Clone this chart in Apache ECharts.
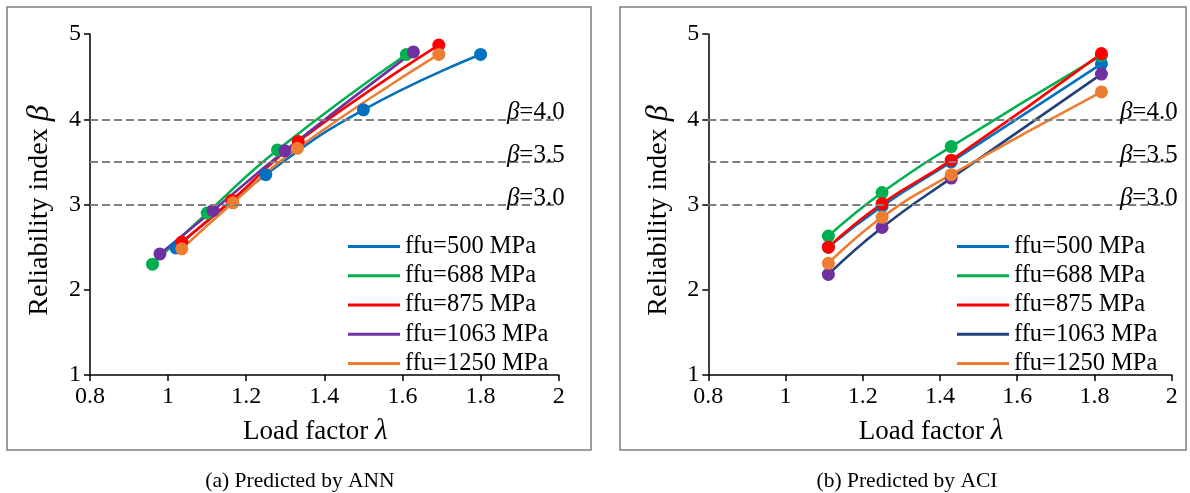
<!DOCTYPE html>
<html>
<head>
<meta charset="utf-8">
<script src="https://cdn.jsdelivr.net/npm/echarts@6/dist/echarts.min.js"></script>
<style>
html,body{margin:0;padding:0;background:#fff;}
#main{width:1190px;height:493px;}
</style>
</head>
<body>
<div id="main"></div>
<script>
// ---- data ----
const seriesNames = ['ffu=500 MPa','ffu=688 MPa','ffu=875 MPa','ffu=1063 MPa','ffu=1250 MPa'];
// (a) Predicted by ANN
const annX500  = [1.02, 1.25, 1.50, 1.80];
const annY500  = [2.49, 3.35, 4.11, 4.76];
const annX688  = [0.96, 1.10, 1.28, 1.61];
const annY688  = [2.30, 2.90, 3.64, 4.76];
const annX875  = [1.035, 1.163, 1.333, 1.693];
const annY875  = [2.56, 3.05, 3.74, 4.87];
const annX1063 = [0.979, 1.115, 1.299, 1.628];
const annY1063 = [2.42, 2.93, 3.63, 4.79];
const annX1250 = [1.035, 1.166, 1.331, 1.693];
const annY1250 = [2.48, 3.02, 3.66, 4.76];
// (b) Predicted by ACI
const aciX     = [1.111, 1.25, 1.429, 1.818];
const aciY500  = [2.50, 2.98, 3.50, 4.65];
const aciY688  = [2.63, 3.14, 3.68, 4.75];
const aciY875  = [2.50, 3.01, 3.52, 4.77];
const aciY1063 = [2.18, 2.73, 3.31, 4.53];
const aciY1250 = [2.31, 2.85, 3.35, 4.32];
// target reliability lines
const betaTargets = [4.0, 3.5, 3.0];
const captions = ['(a) Predicted by ANN', '(b) Predicted by ACI'];

// ---- styles ----
const FONT = 'Liberation Serif';
const annLineColors = ['#0070C0','#00B050','#FF0000','#7030A0','#ED7D31'];
const annMarkColors = ['#0070C0','#00B050','#FF0000','#7030A0','#ED7D31'];
const aciLineColors = ['#0070C0','#00B050','#FF0000','#22407A','#ED7D31'];
const aciMarkColors = ['#0070C0','#00B050','#FF0000','#7030A0','#ED7D31'];

const zip = (xs, ys) => xs.map((x, i) => [x, ys[i]]);
const annData = [zip(annX500,annY500), zip(annX688,annY688), zip(annX875,annY875), zip(annX1063,annY1063), zip(annX1250,annY1250)];
const aciData = [zip(aciX,aciY500), zip(aciX,aciY688), zip(aciX,aciY875), zip(aciX,aciY1063), zip(aciX,aciY1250)];

function markLineDef() {
  return {
    silent: true,
    symbol: 'none',
    lineStyle: {color: '#808080', width: 2, type: [8, 4]},
    label: {
      position: 'insideEndTop',
      distance: -6,
      fontFamily: FONT, fontSize: 25, color: '#000',
      rich: {b: {fontFamily: FONT, fontSize: 25, fontStyle: 'italic', color: '#000'}}
    },
    data: betaTargets.map(v => ({yAxis: v, label: {formatter: '{b|β}=' + v.toFixed(1)}}))
  };
}

const series = [];
[annData, aciData].forEach((set, g) => {
  set.forEach((d, i) => {
    const s = {
      name: seriesNames[i],
      type: 'line',
      xAxisIndex: g, yAxisIndex: g,
      data: d,
      smooth: 0.5,
      symbol: 'circle',
      symbolSize: 13,
      lineStyle: {width: 2.6, color: (g === 0 ? annLineColors : aciLineColors)[i]},
      itemStyle: {color: (g === 0 ? annMarkColors : aciMarkColors)[i]},
      z: 3
    };
    if (i === 0) s.markLine = markLineDef();
    series.push(s);
  });
});

function xAxisDef(g) {
  return {
    type: 'value', gridIndex: g, min: 0.8, max: 2, interval: 0.2,
    name: 'Load factor {l|λ}', nameLocation: 'middle', nameGap: 42,
    nameTextStyle: {fontFamily: FONT, fontSize: 27, color: '#000', padding: [0, 18, 0, 0],
      rich: {l: {fontFamily: FONT, fontSize: 29, fontStyle: 'italic', color: '#000'}}},
    axisLine: {show: true, lineStyle: {color: '#000', width: 1.5}},
    axisTick: {show: true, inside: false, length: 6, lineStyle: {color: '#000', width: 1.5}},
    axisLabel: {fontFamily: FONT, fontSize: 24, color: '#000', margin: 10},
    splitLine: {show: false}
  };
}
function yAxisDef(g) {
  return {
    type: 'value', gridIndex: g, min: 1, max: 5, interval: 1,
    name: 'Reliability index {b|β}', nameLocation: 'middle', nameGap: 34, nameRotate: 90,
    nameTextStyle: {fontFamily: FONT, fontSize: 28, color: '#000', padding: [0, 12, 0, 0],
      rich: {b: {fontFamily: FONT, fontSize: 32, fontStyle: 'italic', color: '#000'}}},
    axisLine: {show: true, lineStyle: {color: '#000', width: 1.5}},
    axisTick: {show: true, inside: false, length: 6, lineStyle: {color: '#000', width: 1.5}},
    axisLabel: {fontFamily: FONT, fontSize: 24, color: '#000', margin: 9},
    splitLine: {show: false}
  };
}
function legendDef(g, left) {
  const lc = g === 0 ? annLineColors : aciLineColors;
  return {
    orient: 'vertical', left: left, top: 234, padding: 0,
    icon: 'rect', itemWidth: 52, itemHeight: 3, itemGap: 4.25,
    textStyle: {fontFamily: FONT, fontSize: 24.5, color: '#000', lineHeight: 24},
    data: seriesNames.map((n, i) => ({name: n, itemStyle: {color: lc[i]}}))
  };
}

const chart = echarts.init(document.getElementById('main'), null, {renderer: 'canvas'});
chart.setOption({
  animation: false,
  backgroundColor: '#fff',
  grid: [
    {left: 90, top: 34, width: 468.7, height: 341},
    {left: 708.3, top: 34, width: 463.4, height: 341}
  ],
  xAxis: [xAxisDef(0), xAxisDef(1)],
  yAxis: [yAxisDef(0), yAxisDef(1)],
  legend: [legendDef(0, 348), legendDef(1, 957)],
  series: series,
  graphic: [
    {type: 'rect', shape: {x: 7, y: 7, width: 584, height: 443}, style: {fill: 'none', stroke: '#7f7f7f', lineWidth: 1.5}, silent: true},
    {type: 'rect', shape: {x: 620, y: 7, width: 566, height: 443}, style: {fill: 'none', stroke: '#7f7f7f', lineWidth: 1.5}, silent: true},
    {type: 'text', x: 300, y: 481, style: {text: captions[0], fontFamily: FONT, fontSize: 21.5, fill: '#000', textAlign: 'center', textVerticalAlign: 'middle'}},
    {type: 'text', x: 907, y: 481, style: {text: captions[1], fontFamily: FONT, fontSize: 21.5, fill: '#000', textAlign: 'center', textVerticalAlign: 'middle'}}
  ]
});
</script>
</body>
</html>
